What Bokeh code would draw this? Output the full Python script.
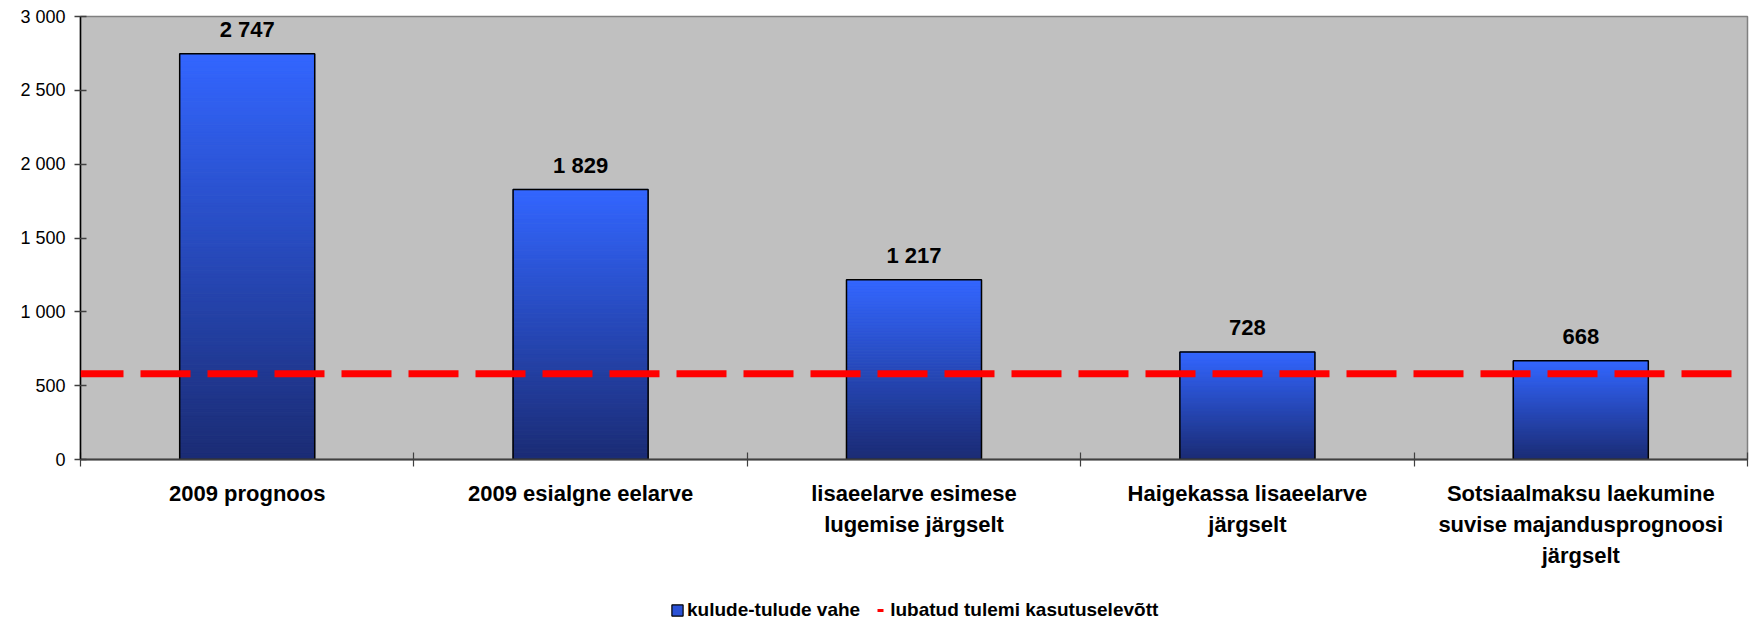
from bokeh.plotting import figure
from bokeh.layouts import column
from bokeh.models import (ColumnDataSource, FixedTicker, Span, LabelSet, Legend, LegendItem, Range1d)
from bokeh.core.properties import value
from bokeh.embed import file_html
from bokeh.resources import INLINE

# ---- data ----
categories = ["2009 prognoos", "2009 esialgne eelarve", "lisaeelarve esimese\nlugemise järgselt",
              "Haigekassa lisaeelarve\njärgselt", "Sotsiaalmaksu laekumine\nsuvise majandusprognoosi\njärgselt"]
values = [2747, 1829, 1217, 728, 668]
limit_value = 580
y_ticks = [0, 500, 1000, 1500, 2000, 2500, 3000]
y_tick_labels = ["0", "500", "1 000", "1 500", "2 000", "2 500", "3 000"]
series_names = ["kulude-tulude vahe", "lubatud tulemi kasutuselevõtt"]

FONT = "Liberation Sans"
top_rgb = (0x33, 0x66, 0xFF)
bot_rgb = (0x1B, 0x2C, 0x74)

p = figure(frame_width=1667, frame_height=443, output_backend="svg", toolbar_location=None,
           x_range=Range1d(0, len(categories)), y_range=Range1d(0, 3000),
           min_border_left=80, min_border_right=3, min_border_top=16, min_border_bottom=139)
p.background_fill_color = "#C0C0C0"
p.border_fill_color = "white"
p.outline_line_color = "#808080"
p.outline_line_width = 1.5
p.grid.visible = False

# gradient bars built from slices
N = 120
half = 0.2025
L, R, B, T, C = [], [], [], [], []
for i, v in enumerate(values):
    for k in range(N):
        f = (k + 0.5) / N
        col = tuple(int(round(bot_rgb[j] + (top_rgb[j] - bot_rgb[j]) * f)) for j in range(3))
        L.append(i + 0.5 - half); R.append(i + 0.5 + half)
        B.append(v * k / N); T.append(v * (k + 1) / N)
        C.append("#%02x%02x%02x" % col)
p.quad(left=L, right=R, bottom=B, top=T, fill_color=C, line_color=C, line_width=1)

bar_src = ColumnDataSource(dict(x=[i + 0.5 for i in range(len(values))], v=values,
                                left=[i + 0.5 - half for i in range(len(values))],
                                right=[i + 0.5 + half for i in range(len(values))],
                                bottom=[0] * len(values),
                                lbl=["{:,}".format(v).replace(",", " ") for v in values]))
p.quad(left="left", right="right", bottom="bottom", top="v", source=bar_src,
       fill_color=None, line_color="black", line_width=1.5)

labels = LabelSet(x="x", y="v", text="lbl", source=bar_src, text_align="center",
                  text_baseline="middle", y_offset=24, text_font=value(FONT),
                  text_font_size="22px", text_font_style="bold", text_color="black")
p.add_layout(labels)

span = Span(location=limit_value, dimension="width", line_color="#FF0000", line_width=7,
            line_dash="50 17", line_dash_offset=7)
p.add_layout(span)

# axes
p.yaxis.ticker = FixedTicker(ticks=y_ticks)
p.yaxis.major_label_overrides = {t: l for t, l in zip(y_ticks, y_tick_labels)}
p.yaxis.major_label_text_font = FONT
p.yaxis.major_label_text_font_size = "18px"
p.yaxis.major_label_text_color = "black"
p.yaxis.axis_line_color = "black"
p.yaxis.axis_line_width = 1.5
p.yaxis.major_tick_line_color = "#404040"
p.yaxis.major_tick_line_width = 1.5
p.yaxis.major_tick_in = 6
p.yaxis.major_tick_out = 6
p.yaxis.minor_tick_line_color = None
p.yaxis.major_label_standoff = 9

centers = [i + 0.5 for i in range(len(categories))]
p.xaxis.ticker = FixedTicker(ticks=centers, minor_ticks=list(range(len(categories) + 1)))
p.xaxis.major_label_overrides = {c: l for c, l in zip(centers, categories)}
p.xaxis.major_tick_line_color = None
p.xaxis.major_tick_in = 0
p.xaxis.major_tick_out = 7
p.xaxis.minor_tick_line_color = "#404040"
p.xaxis.minor_tick_line_width = 1.2
p.xaxis.minor_tick_in = 7
p.xaxis.minor_tick_out = 7
p.xaxis.axis_line_color = "#404040"
p.xaxis.axis_line_width = 2
p.xaxis.major_label_text_font = FONT
p.xaxis.major_label_text_font_size = "22px"
p.xaxis.major_label_text_font_style = "bold"
p.xaxis.major_label_text_color = "black"
p.xaxis.major_label_text_line_height = 1.25
p.xaxis.major_label_standoff = 14

# legend in its own strip below the chart (no axes, so the frame spans the full width)
lf = figure(width=1750, height=23, output_backend="svg", toolbar_location=None,
            x_range=Range1d(0, 1), y_range=Range1d(0, 1), min_border=0,
            x_axis_location=None, y_axis_location=None)
lf.grid.visible = False
lf.outline_line_color = None
lf.background_fill_color = "white"
lf.border_fill_color = "white"
# legend-only proxy renderers, kept outside the strip's visible range
r_bar = lf.quad(left=[2], right=[3], bottom=[2], top=[3], fill_color="#2B52D6",
                line_color="black", line_width=1.2)
r_line = lf.line(x=[2, 3], y=[2, 2], line_color="#FF0000", line_width=3,
                 line_dash="6 8", line_dash_offset=10)
legend = Legend(items=[LegendItem(label=series_names[0], renderers=[r_bar]),
                       LegendItem(label=series_names[1], renderers=[r_line])],
                orientation="horizontal", location=(590, 0))
legend.glyph_width = 14
legend.glyph_height = 14
legend.label_standoff = 3
legend.spacing = 13
legend.padding = 0
legend.margin = 0
legend.border_line_color = None
legend.background_fill_alpha = 0
legend.label_text_font = FONT
legend.label_text_font_size = "19px"
legend.label_text_font_style = "bold"
legend.label_text_color = "black"
lf.add_layout(legend, "center")

layout = column(p, lf, spacing=0)
open("out.html", "w").write(file_html(layout, INLINE))
